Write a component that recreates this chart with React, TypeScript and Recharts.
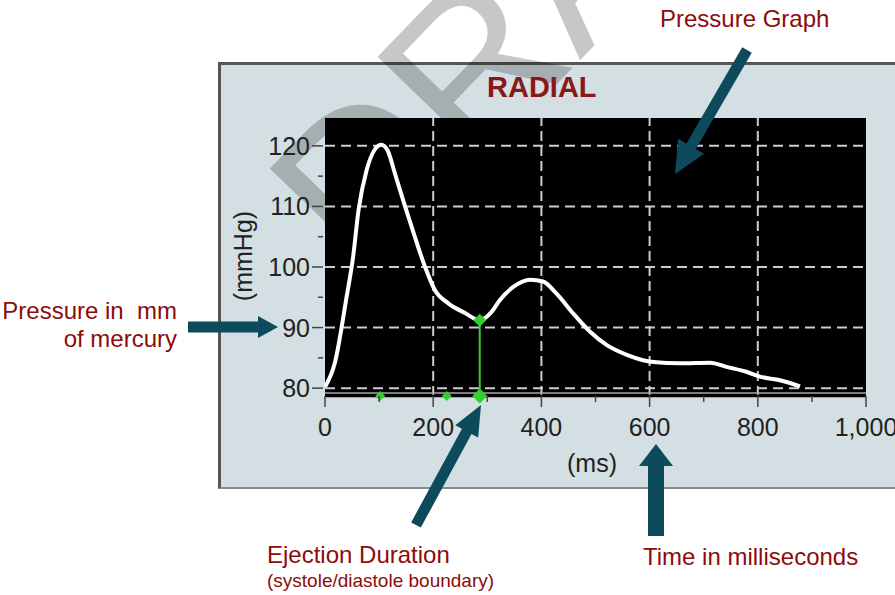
import { ComposedChart, Line, Scatter, XAxis, YAxis, CartesianGrid, ReferenceLine } from 'recharts'

// radial pressure waveform
const timeMs = [0, 18, 40, 52, 62, 77, 92, 104, 116, 129, 148, 166, 185, 203, 228, 259, 286, 308, 323, 348, 379, 403, 428, 459, 490, 521, 558, 607, 656, 712, 742, 779, 804, 841, 878]
const pressure = [80.2, 84.1, 95.1, 101.7, 109.4, 116, 119.4, 120.2, 119.2, 115.5, 110, 105, 100, 96.2, 94, 92.4, 91.2, 92.6, 94.5, 96.7, 97.9, 97.6, 95.6, 92.3, 89.3, 87.1, 85.5, 84.3, 84.1, 84.2, 83.5, 82.7, 81.9, 81.3, 80.3]

const xTicks = [0, 100, 200, 300, 400, 500, 600, 700, 800, 900, 1000]
const xGrid = [200, 400, 600, 800]
const yTicks = [80, 85, 90, 95, 100, 105, 110, 115, 120]
const yGrid = [80, 90, 100, 110, 120]
const yMin = 78.7
const yMax = 124.6

// green event marks: the two small ones on the axis, and the ejection end
const markTimes = [102, 225, 286]
const markSizes = [10, 10, 15]
const ejectionMs = 286
const ejectionP = 91.2

const data = timeMs.map((t, i) => ({ t, p: pressure[i] }))
const marks = [
  ...markTimes.map((t, i) => ({ t, p: yMin, s: markSizes[i] })),
  { t: ejectionMs, p: ejectionP, s: 13 },
]

const fmt = (v: number) => v.toLocaleString('en-US')
const tickFont = { fontFamily: 'Liberation Sans, Arial, sans-serif', fontSize: 25, fill: '#222' }
const red = '#8c0b0b'
const teal = '#0d4a5c'

function YTick({ x, y, payload }: any) {
  const major = payload.value % 10 === 0
  return (
    <g>
      <line x1={x - (major ? 13 : 7)} x2={x - 2} y1={y} y2={y} stroke="#444" strokeWidth={1.5} />
      {major && <text x={x - 15} y={y} dy={9} textAnchor="end" {...tickFont}>{payload.value}</text>}
    </g>
  )
}

function XTick({ x, y, payload }: any) {
  const major = payload.value % 200 === 0
  return (
    <g>
      <line x1={x} x2={x} y1={y} y2={y + (major ? 11 : 6)} stroke="#444" strokeWidth={1.5} />
      {major && <text x={x} y={y} dy={40} textAnchor="middle" {...tickFont}>{fmt(payload.value)}</text>}
    </g>
  )
}

function Diamond({ cx, cy, payload }: any) {
  const r = payload.s / 2
  return <path d={`M${cx},${cy - r}L${cx + r},${cy}L${cx},${cy + r}L${cx - r},${cy}Z`} fill="#2ed12e" />
}

function Arrow({ x1, y1, x2, y2, w, hl, hw }: { x1: number; y1: number; x2: number; y2: number; w: number; hl: number; hw: number }) {
  const dx = x2 - x1, dy = y2 - y1
  const len = Math.hypot(dx, dy)
  const ux = dx / len, uy = dy / len
  const bx = x2 - ux * hl, by = y2 - uy * hl
  const px = -uy, py = ux
  return (
    <g>
      <line x1={x1} y1={y1} x2={bx + ux} y2={by + uy} stroke={teal} strokeWidth={w} />
      <polygon points={`${x2},${y2} ${bx + px * hw},${by + py * hw} ${bx - px * hw},${by - py * hw}`} fill={teal} />
    </g>
  )
}

const note = { position: 'absolute' as const, fontFamily: 'Liberation Sans, Arial, sans-serif', color: red, whiteSpace: 'nowrap' as const, lineHeight: 1 }

export default function App() {
  return (
    <div style={{ position: 'absolute', left: 0, top: 0, width: 895, height: 595, overflow: 'hidden', background: '#fff' }}>
      <div style={{ position: 'absolute', left: 218, top: 62, width: 700, height: 422, background: '#d4dfe3', borderTop: '3px solid #555', borderLeft: '3px solid #555', borderBottom: '2px solid #8a8a8a' }} />
      <svg width={895} height={595} style={{ position: 'absolute', left: 0, top: 0 }}>
        <text x={364} y={284} transform="rotate(-46 364 284)" fontFamily="Liberation Sans, Arial, sans-serif" fontSize={215} fill="#000" fillOpacity={0.22}>DRAFT</text>
      </svg>
      <div style={{ position: 'absolute', left: 0, top: 0 }}>
        <ComposedChart width={895} height={595} data={data} margin={{ top: 118, right: 29, bottom: 119, left: 225 }}>
          <CartesianGrid horizontal={false} vertical={false} fill="#000" stroke="none" />
          {yGrid.map((v) => (
            <ReferenceLine key={'h' + v} y={v} stroke="#cccccc" strokeWidth={2} strokeDasharray="10 6" />
          ))}
          {xGrid.map((v) => (
            <ReferenceLine key={'v' + v} x={v} stroke="#cccccc" strokeWidth={2} strokeDasharray="10 5" />
          ))}
          <ReferenceLine y={yMin + 0.5} stroke="#a8a8a8" strokeWidth={1.5} />
          <ReferenceLine y={yMin} stroke="#000" strokeWidth={2.5} />
          <XAxis dataKey="t" type="number" domain={[0, 1000]} ticks={xTicks} interval={0} height={80} tickSize={0} tickMargin={0}
            tick={<XTick />} axisLine={false} tickLine={false} />
          <YAxis type="number" domain={[yMin, yMax]} ticks={yTicks} interval={0} width={100} tickSize={0} tickMargin={0}
            tick={<YTick />} axisLine={false} tickLine={false} />
          <ReferenceLine segment={[{ x: ejectionMs, y: ejectionP }, { x: ejectionMs, y: yMin }]} stroke="#2ed12e" strokeWidth={2} ifOverflow="visible" />
          <Line dataKey="p" type="monotone" stroke="#fff" strokeWidth={4} dot={false} isAnimationActive={false} />
          <Scatter data={marks} dataKey="p" shape={<Diamond />} isAnimationActive={false} />
        </ComposedChart>
      </div>
      <div style={{ ...note, left: 487, top: 73, fontSize: 29, fontWeight: 'bold', color: '#8a1818' }}>RADIAL</div>
      <div style={{ ...note, left: 243, top: 256, fontSize: 25, color: '#222', transform: 'translate(-50%, -50%) rotate(-90deg)', transformOrigin: 'center' }}>(mmHg)</div>
      <div style={{ ...note, left: 567, top: 451, fontSize: 25, color: '#222' }}>(ms)</div>
      <svg width={895} height={595} style={{ position: 'absolute', left: 0, top: 0 }}>
        <Arrow x1={747} y1={50} x2={675} y2={174} w={11} hl={32} hw={15} />
        <Arrow x1={188} y1={327} x2={278} y2={327} w={11} hl={20} hw={11} />
        <Arrow x1={416} y1={525} x2={481} y2={405} w={11} hl={30} hw={13} />
        <Arrow x1={656} y1={536} x2={656} y2={444} w={16} hl={22} hw={17} />
      </svg>
      <div style={{ ...note, left: 660, top: 7, fontSize: 24 }}>Pressure Graph</div>
      <div style={{ ...note, right: 895 - 177, top: 297, fontSize: 24, textAlign: 'right', lineHeight: '28px' }}>Pressure in&nbsp; mm<br />of mercury</div>
      <div style={{ ...note, left: 267, top: 543, fontSize: 24 }}>Ejection Duration</div>
      <div style={{ ...note, left: 267, top: 571, fontSize: 19 }}>(systole/diastole boundary)</div>
      <div style={{ ...note, left: 643, top: 545, fontSize: 24 }}>Time in milliseconds</div>
    </div>
  )
}
